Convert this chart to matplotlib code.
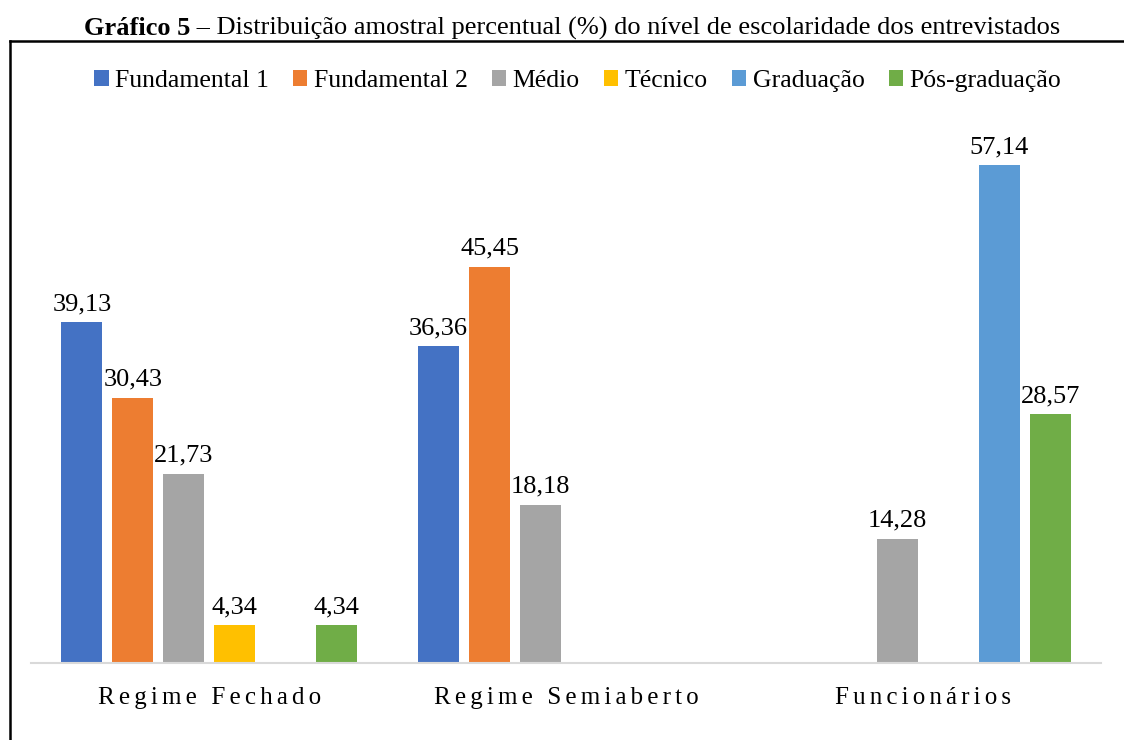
import numpy as np
import matplotlib
matplotlib.use('Agg')
import matplotlib.pyplot as plt
from matplotlib.lines import Line2D

plt.rcParams['font.family'] = ['Liberation Serif', 'DejaVu Serif']

categories = ['Regime Fechado', 'Regime Semiaberto', 'Funcionários']
series = ['Fundamental 1', 'Fundamental 2', 'Médio', 'Técnico', 'Graduação', 'Pós-graduação']
colors = ['#4472C4', '#ED7D31', '#A5A5A5', '#FFC000', '#5B9BD5', '#70AD47']
fundamental1 = [39.13, 36.36, 0]
fundamental2 = [30.43, 45.45, 0]
medio = [21.73, 18.18, 14.28]
tecnico = [4.34, 0, 0]
graduacao = [0, 0, 57.14]
pos_graduacao = [4.34, 0, 28.57]
values = [fundamental1, fundamental2, medio, tecnico, graduacao, pos_graduacao]

fig = plt.figure(figsize=(11.24, 7.40), dpi=100)
ax = fig.add_axes([31/1124, 1-663/740, (1101-31)/1124, (663-140)/740])

step = 51/356.7
width = 41/356.7
x = np.arange(len(categories))
for j, (name, vals, c) in enumerate(zip(series, values, colors)):
    pos = x + (j - 2.5)*step
    for xi, v in zip(pos, vals):
        if v:
            ax.bar(xi, v, width, color=c)
            ax.annotate(f'{v:.2f}'.replace('.', ','), (xi, v), xytext=(0, 5),
                        textcoords='offset points', ha='center', va='bottom', fontsize=19)
    ax.bar(0, 0, 0, color=c, label=name)

ax.set_xlim(-0.5, 2.5)
ax.set_ylim(0, 60)
ax.set_yticks([])
for s in ['top', 'right', 'left']:
    ax.spines[s].set_visible(False)
ax.spines['bottom'].set_color('#D9D9D9')
ax.spines['bottom'].set_linewidth(1.5)
ax.set_xticks(x)
ax.set_xticklabels(['\u2006'.join(c) for c in categories], fontsize=18)
ax.tick_params(axis='x', length=0, pad=17)

fig.legend(loc='center', bbox_to_anchor=(578/1124, 1-81/740), ncol=6, frameon=False,
           fontsize=18.5, handlelength=0.55, handleheight=0.55, handletextpad=0.25,
           columnspacing=0.95, borderaxespad=0)

# title: bold part + regular part
r = fig.canvas.get_renderer()
t1 = fig.text(0, 1-35/740, 'Gráfico 5', fontsize=19, fontweight='bold', va='baseline')
t2 = fig.text(0, 1-35/740, ' – Distribuição amostral percentual (%) do nível de escolaridade dos entrevistados',
              fontsize=19, va='baseline')
w1 = t1.get_window_extent(r).width
w2 = t2.get_window_extent(r).width
x0 = 572 - (w1 + w2)/2
t1.set_x(x0/1124)
t2.set_x((x0 + w1)/1124)

# frame around the chart
fig.add_artist(Line2D([10/1124, 10/1124], [1-41/740, 0], color='black', lw=1.8))
fig.add_artist(Line2D([10/1124, 1], [1-41/740, 1-41/740], color='black', lw=1.8))

fig.savefig('out.png', dpi=100)
